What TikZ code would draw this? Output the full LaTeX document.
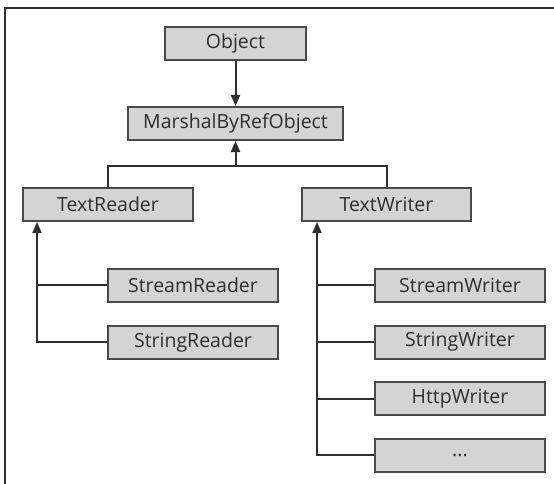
\documentclass[tikz,border=0pt]{standalone}
\usepackage{fontspec}
\setmainfont{Open Sans}
\usetikzlibrary{arrows.meta}
\definecolor{boxfill}{HTML}{D4D4D4}
\definecolor{boxline}{HTML}{4A4A4A}
\definecolor{ink}{HTML}{2E2E2E}
\tikzset{
  cls/.style={draw=boxline, line width=2pt, fill=boxfill, text=ink,
    minimum height=33pt, inner sep=0pt, font=\fontsize{19.5}{22}\selectfont},
  conn/.style={draw=ink, line width=2pt},
  arr/.style={conn, -{Triangle[length=11pt,width=9pt]}},
}
\begin{document}
\begin{tikzpicture}[x=1pt,y=-1pt]
\useasboundingbox (0,0) rectangle (554,484);
\draw[ink, line width=2pt] (5,484) -- (5,8) -- (554,8);
\node[cls, minimum width=141pt] (obj) at (235.5,43.5) {Object};
\node[cls, minimum width=215pt] (mbro) at (235.5,123.5) {MarshalByRefObject};
\node[cls, minimum width=170pt] (tr) at (108,204.5) {TextReader};
\node[cls, minimum width=169pt] (tw) at (386.5,204.5) {TextWriter};
\node[cls, minimum width=170pt] (sr) at (193,285) {StreamReader};
\node[cls, minimum width=170pt] (strr) at (193,342) {StringReader};
\node[cls, minimum width=170pt] (sw) at (460,285) {StreamWriter};
\node[cls, minimum width=170pt] (stw) at (460,342) {StringWriter};
\node[cls, minimum width=170pt] (hw) at (460,398.5) {HttpWriter};
\node[cls, minimum width=170pt] (etc) at (460,455) {...};
\coordinate (j) at (235.5,166);
\coordinate (trb) at ([xshift=15pt]tr.south west);
\coordinate (twb) at ([xshift=16pt]tw.south west);
\draw[arr] (obj) -- (mbro);
\draw[conn] (tr.north) |- (j) -| (tw.north);
\draw[arr] (j) -- (mbro.south);
\draw[arr] (strr.west) -| (trb);
\draw[conn] (sr.west) -- (sr.west -| trb);
\draw[arr] (etc.west) -| (twb);
\draw[conn] (sw.west) -- (sw.west -| twb);
\draw[conn] (stw.west) -- (stw.west -| twb);
\draw[conn] (hw.west) -- (hw.west -| twb);
\end{tikzpicture}
\end{document}
